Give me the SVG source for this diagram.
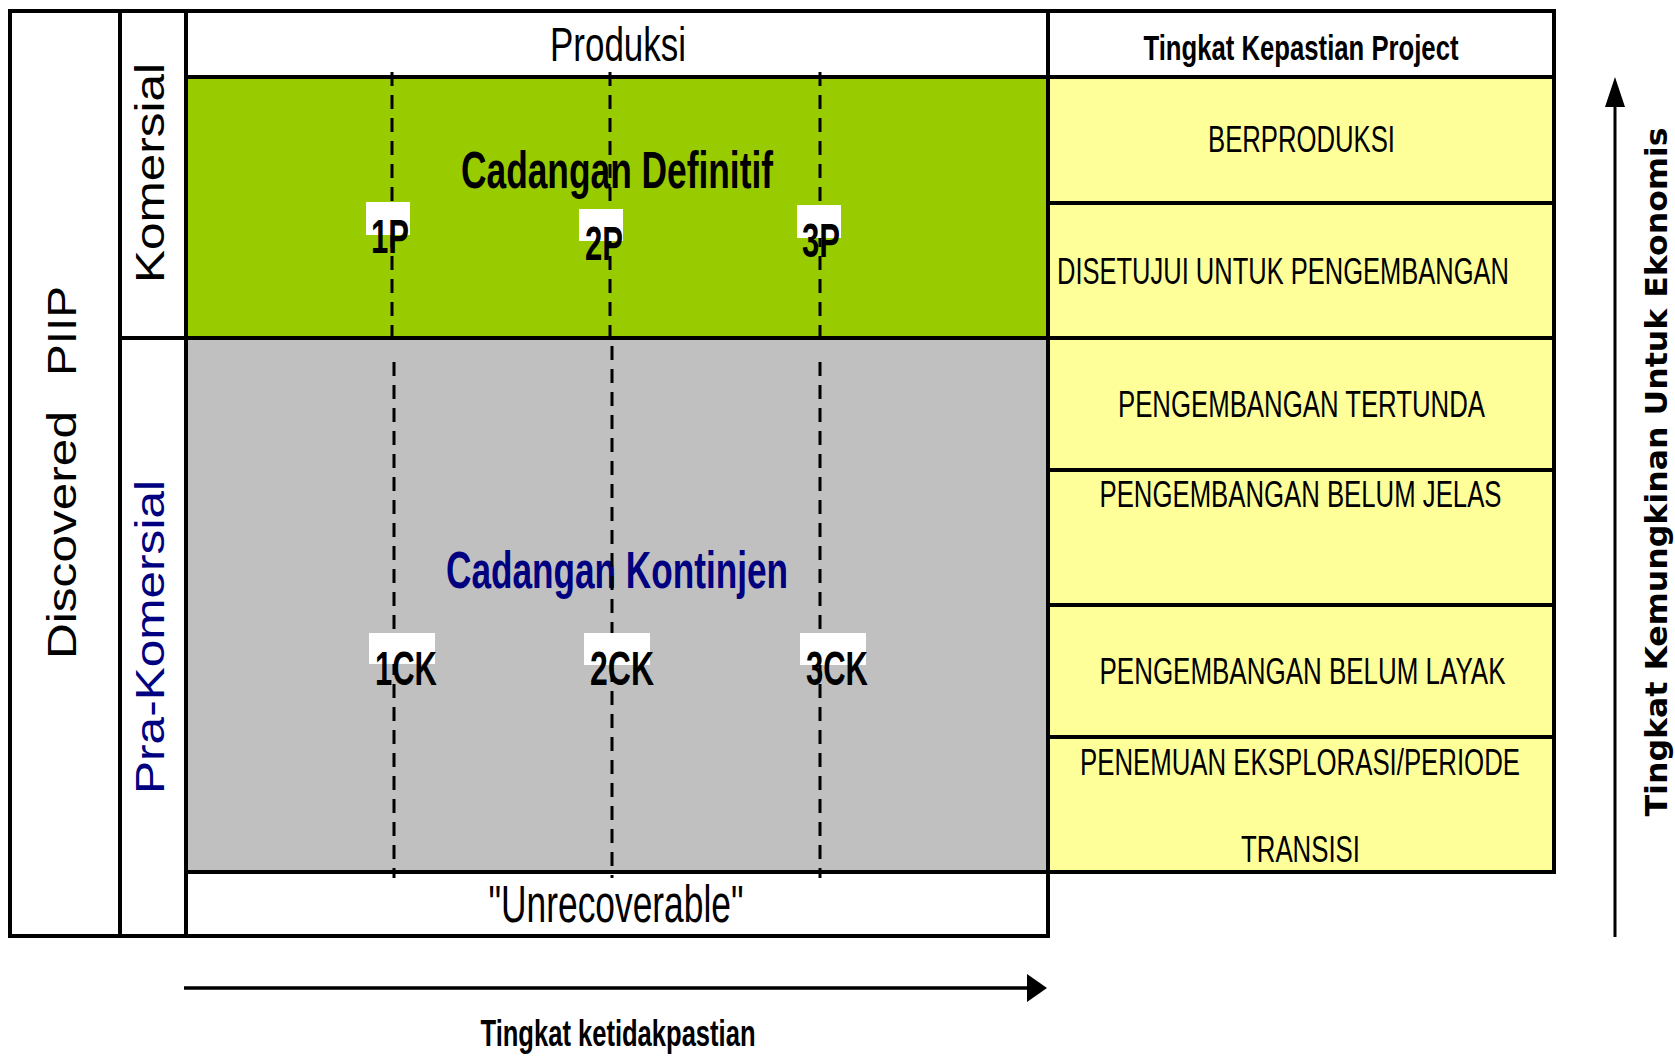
<svg xmlns="http://www.w3.org/2000/svg" width="1675" height="1057" viewBox="0 0 1675 1057">
<defs>
<style>
.frame{fill:none;stroke:#000;stroke-width:4;stroke-linecap:square}
.dash{fill:none;stroke:#000;stroke-width:3;stroke-dasharray:14 9}
.nar{font-family:"Liberation Sans Narrow","Liberation Sans",Arial,sans-serif;fill:#000}
.b{font-weight:bold}
.row{font-size:36px;text-anchor:middle}
.lbl{font-size:48px;font-weight:bold;text-anchor:middle}
.rot{font-family:"Liberation Sans",Arial,sans-serif;font-size:40px}
.wbox{fill:#fff}
</style>
<marker id="headUp" markerUnits="userSpaceOnUse" markerWidth="30" markerHeight="20" refX="0" refY="10" orient="auto">
<path d="M0,0 L30,10 L0,20 z" fill="#000"/>
</marker>
<marker id="headRight" markerUnits="userSpaceOnUse" markerWidth="20" markerHeight="28" refX="0" refY="14" orient="auto">
<path d="M0,0 L20,14 L0,28 z" fill="#000"/>
</marker>
</defs>
<rect width="1675" height="1057" fill="#fff"/>

<g id="cadangan-definitif">
<rect x="186" y="77" width="862" height="261" fill="#99CC00"/>
<text class="nar b" x="617" y="188" font-size="52" text-anchor="middle" textLength="312" lengthAdjust="spacingAndGlyphs">Cadangan Definitif</text>
</g>

<g id="cadangan-kontinjen">
<rect x="186" y="338" width="862" height="534" fill="#C0C0C0"/>
<text class="nar b" x="617" y="588" font-size="52" text-anchor="middle" style="fill:#000080" textLength="342" lengthAdjust="spacingAndGlyphs">Cadangan Kontinjen</text>
</g>

<g id="tingkat-kepastian-table">
<rect x="1048" y="77" width="506" height="795" fill="#FFFF99"/>
</g>

<g id="connectors">
<line class="dash" x1="392" y1="72" x2="392" y2="338"/>
<line class="dash" x1="610" y1="72" x2="610" y2="338"/>
<line class="dash" x1="820" y1="72" x2="820" y2="338"/>
<line class="dash" x1="394" y1="362" x2="394" y2="878"/>
<line class="dash" x1="612" y1="346" x2="612" y2="878"/>
<line class="dash" x1="820" y1="362" x2="820" y2="878"/>
<line x1="1615" y1="937" x2="1615" y2="107" stroke="#000" stroke-width="3" marker-end="url(#headUp)"/>
<line x1="184" y1="988" x2="1027" y2="988" stroke="#000" stroke-width="3.5" marker-end="url(#headRight)"/>
</g>

<g id="grid">
<line class="frame" x1="10" y1="11" x2="1554" y2="11"/>
<line class="frame" x1="10" y1="11" x2="10" y2="936"/>
<line class="frame" x1="10" y1="936" x2="1048" y2="936"/>
<line class="frame" x1="120" y1="11" x2="120" y2="936"/>
<line class="frame" x1="186" y1="11" x2="186" y2="936"/>
<line class="frame" x1="1048" y1="11" x2="1048" y2="936"/>
<line class="frame" x1="1554" y1="11" x2="1554" y2="872"/>
<line class="frame" x1="186" y1="77" x2="1554" y2="77"/>
<line class="frame" x1="120" y1="338" x2="1554" y2="338"/>
<line class="frame" x1="186" y1="872" x2="1554" y2="872"/>
<line class="frame" x1="1048" y1="203" x2="1554" y2="203"/>
<line class="frame" x1="1048" y1="470" x2="1554" y2="470"/>
<line class="frame" x1="1048" y1="605" x2="1554" y2="605"/>
<line class="frame" x1="1048" y1="737" x2="1554" y2="737"/>
</g>

<g id="label-1P">
<rect class="wbox" x="366" y="202" width="44" height="33"/>
<text class="nar lbl" x="390" y="253" textLength="38" lengthAdjust="spacingAndGlyphs">1P</text>
</g>
<g id="label-2P">
<rect class="wbox" x="579" y="209" width="44" height="32"/>
<text class="nar lbl" x="604" y="260" textLength="38" lengthAdjust="spacingAndGlyphs">2P</text>
</g>
<g id="label-3P">
<rect class="wbox" x="797" y="205" width="44" height="33"/>
<text class="nar lbl" x="821" y="257" textLength="38" lengthAdjust="spacingAndGlyphs">3P</text>
</g>
<g id="label-1CK">
<rect class="wbox" x="369" y="633" width="66" height="31"/>
<text class="nar lbl" x="406" y="685" textLength="62" lengthAdjust="spacingAndGlyphs">1CK</text>
</g>
<g id="label-2CK">
<rect class="wbox" x="584" y="633" width="66" height="32"/>
<text class="nar lbl" x="622" y="685" textLength="64" lengthAdjust="spacingAndGlyphs">2CK</text>
</g>
<g id="label-3CK">
<rect class="wbox" x="800" y="633" width="66" height="32"/>
<text class="nar lbl" x="837" y="685" textLength="62" lengthAdjust="spacingAndGlyphs">3CK</text>
</g>

<g id="produksi">
<text class="nar" x="618" y="61" font-size="49" text-anchor="middle" textLength="136" lengthAdjust="spacingAndGlyphs">Produksi</text>
</g>
<g id="unrecoverable">
<text class="nar" x="616" y="922" font-size="51" text-anchor="middle" textLength="255" lengthAdjust="spacingAndGlyphs">"Unrecoverable"</text>
</g>

<g id="discovered-piip">
<text class="rot" transform="translate(76,0) rotate(-90)" x="-659" y="0" textLength="248" lengthAdjust="spacingAndGlyphs">Discovered</text>
<text class="rot" transform="translate(76,0) rotate(-90)" x="-376" y="0" textLength="90" lengthAdjust="spacingAndGlyphs">PIIP</text>
</g>
<g id="komersial">
<text class="rot" transform="translate(164,0) rotate(-90)" x="-283" y="0" font-size="38" textLength="220" lengthAdjust="spacingAndGlyphs">Komersial</text>
</g>
<g id="pra-komersial">
<text class="rot" transform="translate(164,0) rotate(-90)" x="-794" y="0" font-size="38" fill="#000080" textLength="314" lengthAdjust="spacingAndGlyphs">Pra-Komersial</text>
</g>

<g id="header-kepastian">
<text class="nar b" x="1301" y="60" font-size="35" text-anchor="middle" textLength="315" lengthAdjust="spacingAndGlyphs">Tingkat Kepastian Project</text>
</g>
<g id="row-berproduksi">
<text class="nar row" x="1301.5" y="152" textLength="187" lengthAdjust="spacingAndGlyphs">BERPRODUKSI</text>
</g>
<g id="row-disetujui">
<text class="nar row" x="1283" y="284" textLength="452" lengthAdjust="spacingAndGlyphs">DISETUJUI UNTUK PENGEMBANGAN</text>
</g>
<g id="row-tertunda">
<text class="nar row" x="1301.5" y="417" textLength="367" lengthAdjust="spacingAndGlyphs">PENGEMBANGAN TERTUNDA</text>
</g>
<g id="row-belum-jelas">
<text class="nar row" x="1300.5" y="507" textLength="402" lengthAdjust="spacingAndGlyphs">PENGEMBANGAN BELUM JELAS</text>
</g>
<g id="row-belum-layak">
<text class="nar row" x="1302.5" y="684" textLength="406" lengthAdjust="spacingAndGlyphs">PENGEMBANGAN BELUM LAYAK</text>
</g>
<g id="row-penemuan">
<text class="nar row" x="1300" y="775" font-size="35" textLength="440" lengthAdjust="spacingAndGlyphs">PENEMUAN EKSPLORASI/PERIODE</text>
<text class="nar row" x="1300.5" y="862" textLength="119" lengthAdjust="spacingAndGlyphs">TRANSISI</text>
</g>

<g id="axis-ekonomis">
<text transform="translate(1667,0) rotate(-90)" x="-472" y="0" font-family="DejaVu Sans,Verdana,sans-serif" font-weight="bold" font-size="30" text-anchor="middle" textLength="689" lengthAdjust="spacingAndGlyphs">Tingkat Kemungkinan Untuk Ekonomis</text>
</g>
<g id="axis-ketidakpastian">
<text class="nar b" x="618" y="1046" font-size="36" text-anchor="middle" textLength="275" lengthAdjust="spacingAndGlyphs">Tingkat ketidakpastian</text>
</g>
</svg>
